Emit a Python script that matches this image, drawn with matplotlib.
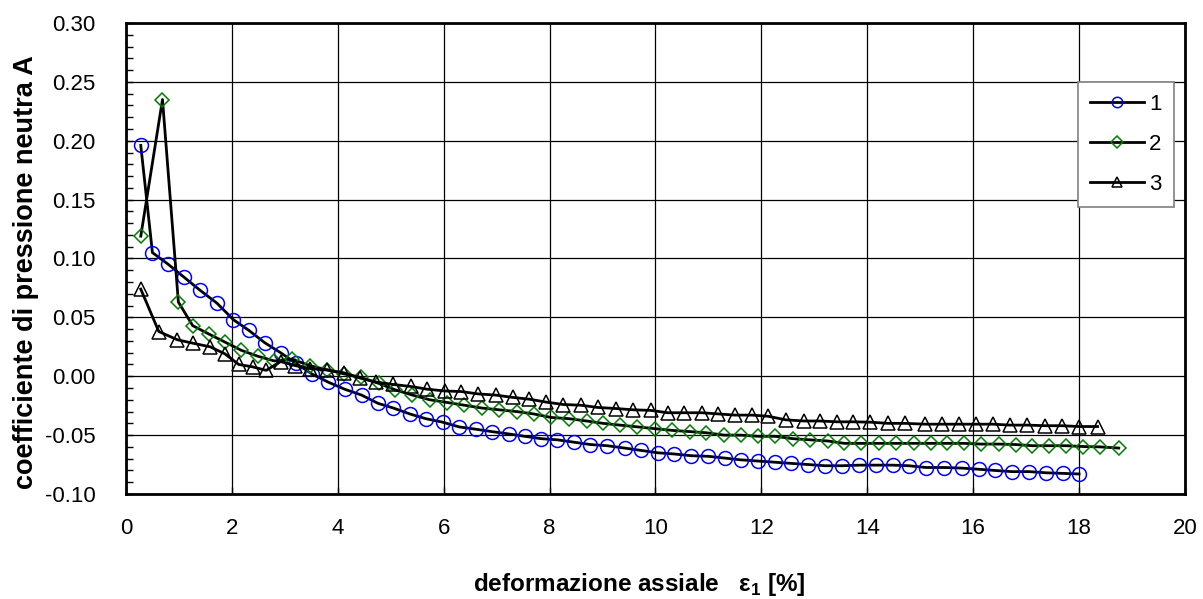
import matplotlib
matplotlib.use("Agg")
import matplotlib.pyplot as plt
from matplotlib.ticker import MultipleLocator, FormatStrFormatter

plt.rcParams["font.family"] = ["Liberation Sans", "DejaVu Sans"]
plt.rcParams["mathtext.fontset"] = "custom"
plt.rcParams["mathtext.rm"] = "Liberation Sans"
plt.rcParams["mathtext.bf"] = "Liberation Sans:bold"

# ---------------------------------------------------------------------------
# Data
# ---------------------------------------------------------------------------

x1 = [0.28, 0.5, 0.8, 1.1, 1.4, 1.72, 2.03, 2.32, 2.62, 2.92,
      3.21, 3.51, 3.82, 4.13, 4.45, 4.76, 5.05, 5.36, 5.66, 5.98,
      6.29, 6.61, 6.91, 7.23, 7.53, 7.84, 8.15, 8.46, 8.77, 9.09,
      9.42, 9.73, 10.04, 10.35, 10.68, 11.0, 11.31, 11.61, 11.93, 12.25,
      12.56, 12.89, 13.2, 13.52, 13.85, 14.17, 14.48, 14.78, 15.11, 15.45,
      15.78, 16.11, 16.41, 16.73, 17.06, 17.38, 17.7, 18.0]
y1 = [0.196, 0.105, 0.095, 0.084, 0.073, 0.062, 0.048, 0.039, 0.0285, 0.020,
      0.011, 0.002, -0.005, -0.011, -0.016, -0.023, -0.027, -0.032, -0.036, -0.039,
      -0.043, -0.045, -0.047, -0.049, -0.051, -0.053, -0.054, -0.056, -0.058, -0.059,
      -0.061, -0.063, -0.065, -0.066, -0.0675, -0.068, -0.0695, -0.071, -0.072, -0.073,
      -0.074, -0.075, -0.076, -0.076, -0.0755, -0.0755, -0.0755, -0.076, -0.0775, -0.0775,
      -0.078, -0.079, -0.080, -0.081, -0.081, -0.082, -0.0825, -0.083]

x2 = [0.28, 0.69, 0.99, 1.26, 1.56, 1.87, 2.18, 2.49, 2.8, 3.14,
      3.47, 3.8, 4.12, 4.43, 4.77, 5.09, 5.41, 5.74, 6.07, 6.39,
      6.72, 7.05, 7.38, 7.7, 8.03, 8.36, 8.7, 9.01, 9.33, 9.66,
      9.99, 10.32, 10.65, 10.96, 11.3, 11.61, 11.94, 12.26, 12.59, 12.92,
      13.26, 13.57, 13.89, 14.22, 14.55, 14.88, 15.2, 15.51, 15.83, 16.15,
      16.49, 16.8, 17.12, 17.44, 17.76, 18.08, 18.4, 18.75]
y2 = [0.119, 0.235, 0.063, 0.043, 0.036, 0.029, 0.022, 0.017, 0.013, 0.0145,
      0.009, 0.0055, 0.002, -0.001, -0.006, -0.0116, -0.016, -0.020, -0.0223, -0.0246,
      -0.027, -0.0285, -0.030, -0.032, -0.035, -0.036, -0.038, -0.040, -0.0415, -0.043,
      -0.0445, -0.046, -0.047, -0.048, -0.050, -0.050, -0.051, -0.051, -0.053, -0.054,
      -0.055, -0.057, -0.057, -0.057, -0.057, -0.057, -0.057, -0.057, -0.057, -0.0576,
      -0.0576, -0.058, -0.059, -0.059, -0.059, -0.0597, -0.060, -0.061]

x3 = [0.28, 0.62, 0.97, 1.27, 1.59, 1.87, 2.13, 2.39, 2.65, 2.92,
      3.2, 3.48, 3.79, 4.11, 4.42, 4.73, 5.05, 5.38, 5.69, 6.02,
      6.33, 6.65, 6.98, 7.31, 7.62, 7.94, 8.26, 8.59, 8.91, 9.25,
      9.58, 9.91, 10.23, 10.54, 10.87, 11.19, 11.5, 11.82, 12.13, 12.46,
      12.8, 13.11, 13.43, 13.74, 14.06, 14.39, 14.71, 15.09, 15.42, 15.73,
      16.05, 16.37, 16.7, 17.02, 17.36, 17.67, 18.0, 18.35]
y3 = [0.074, 0.038, 0.031, 0.028, 0.025, 0.019, 0.010, 0.008, 0.005, 0.0125,
      0.009, 0.0065, 0.0053, 0.003, -0.0015, -0.005, -0.007, -0.0087, -0.011, -0.0125,
      -0.013, -0.015, -0.016, -0.018, -0.0195, -0.022, -0.024, -0.0246, -0.0265, -0.0274,
      -0.0285, -0.029, -0.031, -0.031, -0.031, -0.032, -0.033, -0.033, -0.034, -0.037,
      -0.038, -0.038, -0.0387, -0.0387, -0.039, -0.040, -0.040, -0.0407, -0.0407, -0.0407,
      -0.0407, -0.0407, -0.0415, -0.0415, -0.042, -0.042, -0.0427, -0.0427]

labels = ["1", "2", "3"]

# ---------------------------------------------------------------------------
# Plot
# ---------------------------------------------------------------------------

fig = plt.figure(figsize=(12.03, 5.99), dpi=100)
ax = fig.add_axes([0.1047, 0.1753, 0.8803, 0.7863])

styles = [
    dict(marker="o", ms=10, mec="#0000ff"),
    dict(marker="D", ms=7.5, mec="#008000"),
    dict(marker="^", ms=10, mec="black"),
]
for xs, ys, lab, st in zip([x1, x2, x3], [y1, y2, y3], labels, styles):
    ax.plot(xs, ys, color="black", lw=2.0, mfc="none", mew=1.1, label=lab, **st)

ax.set_xlim(0, 20)
ax.set_ylim(-0.10, 0.30)
ax.xaxis.set_major_locator(MultipleLocator(2))
ax.yaxis.set_major_locator(MultipleLocator(0.05))
ax.yaxis.set_minor_locator(MultipleLocator(0.01))
ax.yaxis.set_major_formatter(FormatStrFormatter("%.2f"))

ax.grid(True, which="major", color="black", lw=0.9)
ax.tick_params(axis="both", which="both", direction="in", labelsize=16)
ax.tick_params(axis="y", which="both", length=5, width=1, pad=22)
ax.tick_params(axis="x", which="major", length=5, width=1, pad=17)
for sp in ax.spines.values():
    sp.set_linewidth(2.0)

ax.set_ylabel("coefficiente di pressione neutra A", fontsize=19.5, fontweight="bold")
ax.yaxis.set_label_coords(-0.082, 0.471)
ax.set_xlabel(r"deformazione assiale   ε$_\mathbf{1}$ [%]", fontsize=17.5,
              fontweight="bold")
ax.xaxis.set_label_coords(0.485, -0.163)

leg = ax.legend(loc="upper left", bbox_to_anchor=(0.899, 0.875), fontsize=16,
                frameon=True, fancybox=False, edgecolor="#808080", framealpha=1,
                handlelength=2.4, handletextpad=0.25, labelspacing=0.85,
                borderpad=0.55, borderaxespad=0)
leg.get_frame().set_linewidth(1.2)
for h in leg.legend_handles:
    h.set_markersize(h.get_markersize() * 0.75)

fig.savefig("out.png", dpi=100)
